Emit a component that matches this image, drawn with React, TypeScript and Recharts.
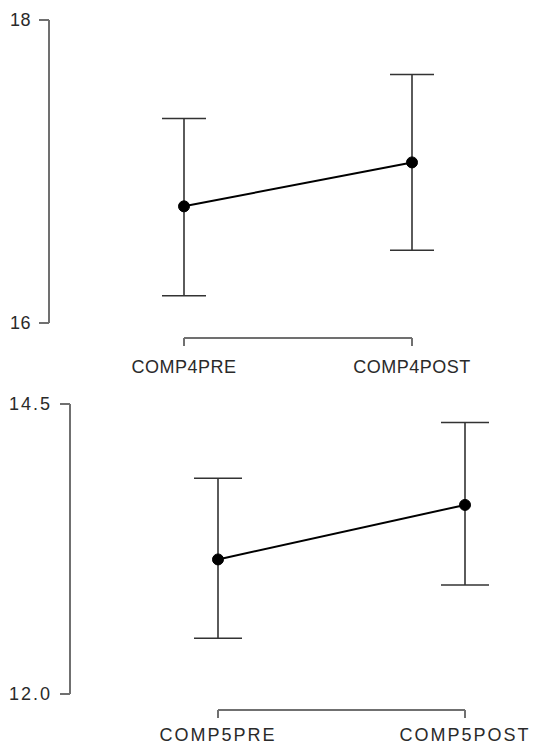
import { LineChart, Line, XAxis, YAxis, ErrorBar } from "recharts";

// values: means and interval ends
const comp4Labels = ["COMP4PRE", "COMP4POST"];
const comp4Mean = [16.77, 17.06];
const comp4Lower = [16.18, 16.48];
const comp4Upper = [17.35, 17.64];
const comp4Ticks = [16, 18];

const comp5Labels = ["COMP5PRE", "COMP5POST"];
const comp5Mean = [13.16, 13.63];
const comp5Lower = [12.48, 12.94];
const comp5Upper = [13.86, 14.34];
const comp5Ticks = [12, 14.5];

const build = (labels: string[], mean: number[], lower: number[], upper: number[]) =>
  labels.map((name, i) => ({
    name,
    mean: mean[i],
    err: [mean[i] - lower[i], upper[i] - mean[i]],
  }));

const font = "'Liberation Sans', Arial, sans-serif";
const axisColor = "#707070";

type PanelProps = {
  data: { name: string; mean: number; err: number[] }[];
  ticks: number[];
  height: number;
  margin: { top: number; right: number; bottom: number; left: number };
  padLeft: number;
  axisLeft: number;
  padBottom: number;
  axisBottom: number;
  capWidth: number;
  spacing: number;
  fmt: (v: number) => string;
  tickGapX: number;
};

function Panel(p: PanelProps) {
  const tickStyle = { fontSize: 18, fill: "#2a2a2a", fontFamily: font, letterSpacing: p.spacing };
  return (
    <LineChart width={533} height={p.height} data={p.data} margin={p.margin}>
      {/* inner spacer axes push the visible axes away from the plot, R style */}
      <XAxis xAxisId="inner" height={p.padBottom} tick={false} axisLine={false} tickLine={false} />
      <XAxis
        xAxisId="outer"
        dataKey="name"
        scale="point"
        padding={{ left: 0, right: 0 }}
        height={p.axisBottom}
        stroke={axisColor}
        strokeWidth={2}
        tickSize={8}
        tickMargin={p.tickGapX}
        tick={tickStyle}
        interval={0}
      />
      <YAxis yAxisId="inner" width={p.padLeft} tick={false} axisLine={false} tickLine={false} />
      <YAxis
        yAxisId="outer"
        domain={[p.ticks[0], p.ticks[p.ticks.length - 1]]}
        ticks={p.ticks}
        interval={0}
        width={p.axisLeft}
        stroke={axisColor}
        strokeWidth={2}
        tickSize={10}
        tickMargin={8}
        tick={tickStyle}
        tickFormatter={p.fmt}
      />
      <Line
        xAxisId="outer"
        yAxisId="outer"
        type="linear"
        dataKey="mean"
        stroke="#000"
        strokeWidth={2}
        dot={{ r: 5.5, fill: "#000", stroke: "#000", strokeWidth: 1 }}
        activeDot={false}
        isAnimationActive={false}
      >
        <ErrorBar dataKey="err" direction="y" width={p.capWidth} stroke="#333" strokeWidth={1.6} />
      </Line>
    </LineChart>
  );
}

export default function App() {
  return (
    <div style={{ position: "absolute", left: 0, top: 0, background: "#fff" }}>
      <Panel
        data={build(comp4Labels, comp4Mean, comp4Lower, comp4Upper)}
        ticks={comp4Ticks}
        height={380}
        margin={{ top: 20, right: 121, bottom: 0, left: 0 }}
        padLeft={135}
        axisLeft={49}
        padBottom={15}
        axisBottom={42}
        capWidth={22}
        spacing={0.5}
        fmt={(v) => String(v)}
        tickGapX={14}
      />
      <Panel
        data={build(comp5Labels, comp5Mean, comp5Lower, comp5Upper)}
        ticks={comp5Ticks}
        height={366}
        margin={{ top: 24, right: 68, bottom: 0, left: 0 }}
        padLeft={148}
        axisLeft={70}
        padBottom={16}
        axisBottom={36}
        capWidth={24}
        spacing={2}
        fmt={(v) => v.toFixed(1)}
        tickGapX={10}
      />
    </div>
  );
}
